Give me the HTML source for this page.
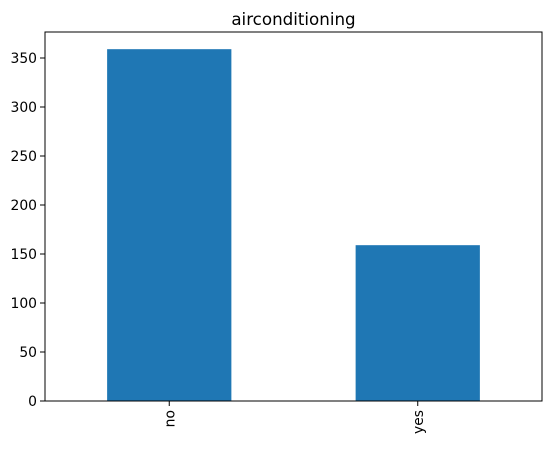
<!DOCTYPE html>
<html><head><meta charset="utf-8"><style>
body{margin:0;background:#fff;}
svg{font-family:"DejaVu Sans","Liberation Sans",sans-serif;}
</style></head><body>
<svg id="chart" width="552" height="445">
<text x="293.5" y="25" font-size="16.7" text-anchor="middle">airconditioning</text>
<g id="bars"></g>
<g id="yaxis"></g>
<g id="xaxis"></g>
<rect x="45" y="32" width="497" height="369" fill="none" stroke="#000" stroke-width="1"/>
</svg>
<script>
const categories = ["no", "yes"];
const values = [359, 159];
const yTicks = [0, 50, 100, 150, 200, 250, 300, 350];
const L=45,R=542,T=32,B=401;
const ymax=(B-T)/0.98;
function y(v){return B-(v/ymax)*(B-T);}
function x(i){return L+(i+0.5)/2*(R-L);}
const ns="http://www.w3.org/2000/svg";
const bars=document.getElementById('bars'),ya=document.getElementById('yaxis'),xa=document.getElementById('xaxis');
const bw=(R-L)/2*0.5;
values.forEach((v,i)=>{
 const r=document.createElementNS(ns,'rect');
 r.setAttribute('x',x(i)-bw/2);r.setAttribute('y',y(v));r.setAttribute('width',bw);r.setAttribute('height',B-y(v));r.setAttribute('fill','#1f77b4');
 
 
 bars.appendChild(r);
 const t=document.createElementNS(ns,'line');
 t.setAttribute('x1',x(i));t.setAttribute('x2',x(i));t.setAttribute('y1',B);t.setAttribute('y2',B+5);t.setAttribute('stroke','#000');
 xa.appendChild(t);
 const lb=document.createElementNS(ns,'text');
 lb.setAttribute('transform','translate('+(x(i)+5)+','+(B+9)+') rotate(-90)');
 lb.setAttribute('text-anchor','end');lb.setAttribute('font-size','13.9');lb.textContent=categories[i];
 
 
 xa.appendChild(lb);
});
yTicks.forEach(v=>{
 const t=document.createElementNS(ns,'line');
 t.setAttribute('x1',L-5);t.setAttribute('x2',L);t.setAttribute('y1',y(v));t.setAttribute('y2',y(v));t.setAttribute('stroke','#000');
 ya.appendChild(t);
 const lb=document.createElementNS(ns,'text');
 lb.setAttribute('x',L-8);lb.setAttribute('y',y(v)+5);lb.setAttribute('text-anchor','end');lb.setAttribute('font-size','13.9');lb.textContent=v;
 
 
 ya.appendChild(lb);
});
</script>
</body></html>
